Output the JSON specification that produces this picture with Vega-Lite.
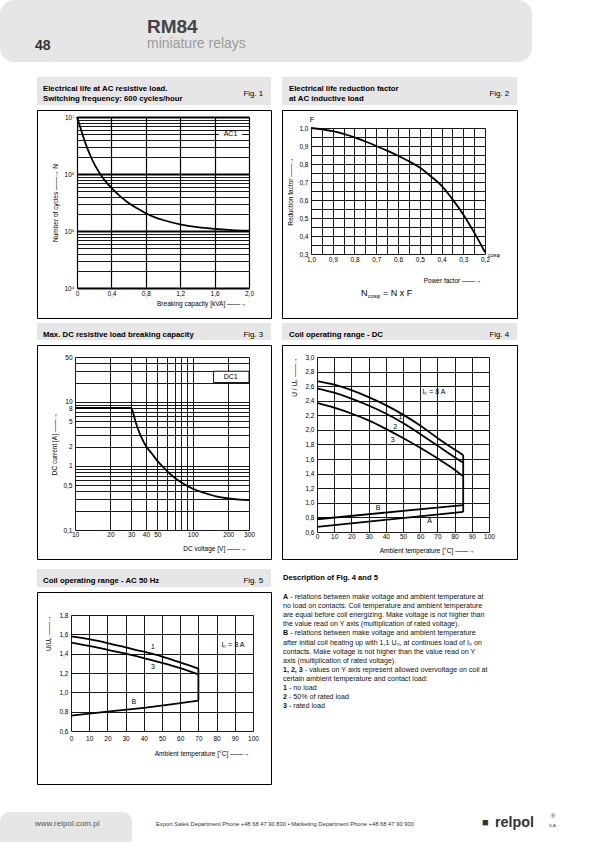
{
"$schema": "https://vega.github.io/schema/vega-lite/v6.json",
"padding": 0,
"background": "white",
"spacing": 15,
"config": {
  "view": {"stroke": null},
  "font": "Liberation Sans",
  "axis": {"grid": true, "gridColor": "#000", "gridOpacity": 1, "gridWidth": 0.9, "domain": false, "ticks": false, "tickSize": 0, "tickCount": 100, "labelFont": "Liberation Sans", "labelFontSize": 6.5, "labelColor": "#000", "labelPadding": 3, "labelFlush": false, "labelOverlap": false, "labelBound": false, "titleFont": "Liberation Sans", "titleFontSize": 6.5, "titleFontWeight": "normal", "titleColor": "#000", "titlePadding": 5},
  "text": {"font": "Liberation Sans", "color": "#000"}
},
"datasets": {
  "fig1": [
    {"kva": 0, "n": 10000000}, {"kva": 0.03, "n": 7200000}, {"kva": 0.06, "n": 5200000}, {"kva": 0.1, "n": 3400000},
    {"kva": 0.15, "n": 2200000}, {"kva": 0.2, "n": 1500000}, {"kva": 0.27, "n": 1000000}, {"kva": 0.33, "n": 750000},
    {"kva": 0.4, "n": 570000}, {"kva": 0.5, "n": 410000}, {"kva": 0.6, "n": 310000}, {"kva": 0.7, "n": 250000},
    {"kva": 0.8, "n": 205000}, {"kva": 0.9, "n": 175000}, {"kva": 1.0, "n": 156000}, {"kva": 1.2, "n": 131000},
    {"kva": 1.4, "n": 117000}, {"kva": 1.6, "n": 109000}, {"kva": 1.8, "n": 104000}, {"kva": 2.0, "n": 101000}
  ],
  "fig2": [
    {"pf": 1.0, "f": 1.0}, {"pf": 0.95, "f": 0.993}, {"pf": 0.9, "f": 0.982}, {"pf": 0.85, "f": 0.967},
    {"pf": 0.8, "f": 0.948}, {"pf": 0.75, "f": 0.925}, {"pf": 0.7, "f": 0.9}, {"pf": 0.65, "f": 0.874},
    {"pf": 0.6, "f": 0.846}, {"pf": 0.55, "f": 0.815}, {"pf": 0.5, "f": 0.78}, {"pf": 0.45, "f": 0.732},
    {"pf": 0.4, "f": 0.68}, {"pf": 0.35, "f": 0.605}, {"pf": 0.3, "f": 0.52}, {"pf": 0.25, "f": 0.42},
    {"pf": 0.2, "f": 0.31}
  ],
  "fig3": [
    {"v": 10, "i": 8}, {"v": 30, "i": 8}, {"v": 31, "i": 7}, {"v": 32, "i": 5.6}, {"v": 33, "i": 4.6},
    {"v": 34, "i": 3.9}, {"v": 36, "i": 3.0}, {"v": 40, "i": 2.05}, {"v": 45, "i": 1.55}, {"v": 50, "i": 1.2},
    {"v": 57, "i": 0.93}, {"v": 64, "i": 0.75}, {"v": 72, "i": 0.63}, {"v": 80, "i": 0.55}, {"v": 100, "i": 0.44},
    {"v": 125, "i": 0.38}, {"v": 157, "i": 0.335}, {"v": 200, "i": 0.31}, {"v": 250, "i": 0.298}, {"v": 300, "i": 0.293}
  ],
  "fig4": [
    {"s": "1", "t": 0, "u": 2.67}, {"s": "1", "t": 10, "u": 2.62}, {"s": "1", "t": 20, "u": 2.545}, {"s": "1", "t": 30, "u": 2.45},
    {"s": "1", "t": 40, "u": 2.34}, {"s": "1", "t": 50, "u": 2.21}, {"s": "1", "t": 60, "u": 2.06}, {"s": "1", "t": 70, "u": 1.89},
    {"s": "1", "t": 80, "u": 1.73}, {"s": "1", "t": 85, "u": 1.655},
    {"s": "2", "t": 0, "u": 2.57}, {"s": "2", "t": 10, "u": 2.51}, {"s": "2", "t": 20, "u": 2.43}, {"s": "2", "t": 30, "u": 2.335},
    {"s": "2", "t": 40, "u": 2.225}, {"s": "2", "t": 50, "u": 2.095}, {"s": "2", "t": 60, "u": 1.945}, {"s": "2", "t": 70, "u": 1.785},
    {"s": "2", "t": 80, "u": 1.625}, {"s": "2", "t": 85, "u": 1.55},
    {"s": "3", "t": 0, "u": 2.37}, {"s": "3", "t": 10, "u": 2.305}, {"s": "3", "t": 20, "u": 2.225}, {"s": "3", "t": 30, "u": 2.13},
    {"s": "3", "t": 40, "u": 2.015}, {"s": "3", "t": 50, "u": 1.89}, {"s": "3", "t": 60, "u": 1.755}, {"s": "3", "t": 70, "u": 1.61},
    {"s": "3", "t": 80, "u": 1.455}, {"s": "3", "t": 85, "u": 1.365},
    {"s": "A", "t": 0, "u": 0.67}, {"s": "A", "t": 85, "u": 0.875},
    {"s": "B", "t": 0, "u": 0.775}, {"s": "B", "t": 85, "u": 0.97},
    {"s": "V", "t": 85, "u": 0.875}, {"s": "V", "t": 85, "u": 1.655}
  ],
  "fig4lab": [
    {"t": 48.5, "u": 2.175, "label": "1"}, {"t": 45.5, "u": 2.04, "label": "2"}, {"t": 44, "u": 1.86, "label": "3"},
    {"t": 35.5, "u": 0.935, "label": "B"}, {"t": 65.5, "u": 0.745, "label": "A"}, {"t": 68, "u": 2.52, "label": "Iₙ = 8 A"}
  ],
  "fig5": [
    {"s": "1", "t": 0, "u": 1.58}, {"s": "1", "t": 10, "u": 1.55}, {"s": "1", "t": 20, "u": 1.51}, {"s": "1", "t": 30, "u": 1.465},
    {"s": "1", "t": 40, "u": 1.42}, {"s": "1", "t": 50, "u": 1.37}, {"s": "1", "t": 60, "u": 1.31}, {"s": "1", "t": 70, "u": 1.245},
    {"s": "3", "t": 0, "u": 1.515}, {"s": "3", "t": 10, "u": 1.48}, {"s": "3", "t": 20, "u": 1.44}, {"s": "3", "t": 30, "u": 1.4},
    {"s": "3", "t": 40, "u": 1.355}, {"s": "3", "t": 50, "u": 1.305}, {"s": "3", "t": 60, "u": 1.25}, {"s": "3", "t": 70, "u": 1.185},
    {"s": "B", "t": 0, "u": 0.76}, {"s": "B", "t": 20, "u": 0.8}, {"s": "B", "t": 40, "u": 0.84}, {"s": "B", "t": 55, "u": 0.875},
    {"s": "B", "t": 70, "u": 0.915},
    {"s": "V", "t": 70, "u": 0.915}, {"s": "V", "t": 70, "u": 1.245}
  ],
  "fig5lab": [
    {"t": 45, "u": 1.465, "label": "1"}, {"t": 45, "u": 1.265, "label": "3"}, {"t": 34.5, "u": 0.9, "label": "B"}, {"t": 89, "u": 1.49, "label": "Iₙ = 8 A"}
  ]
},
"vconcat": [
  {
    "width": 532, "height": 62,
    "view": {"fill": "#e6e6e6", "stroke": null, "cornerRadius": 14},
    "data": {"values": [{}]},
    "layer": [
      {"mark": {"type": "text", "text": "48", "fontSize": 14, "fontWeight": "bold", "align": "left", "baseline": "alphabetic", "color": "#333"}, "encoding": {"x": {"value": 35}, "y": {"value": 50}}},
      {"mark": {"type": "text", "text": "RM84", "fontSize": 19, "fontWeight": "bold", "align": "left", "baseline": "alphabetic", "color": "#444"}, "encoding": {"x": {"value": 147}, "y": {"value": 33}}},
      {"mark": {"type": "text", "text": "miniature relays", "fontSize": 14, "align": "left", "baseline": "alphabetic", "color": "#9a9a9a"}, "encoding": {"x": {"value": 147}, "y": {"value": 48}}}
    ]
  },
  {
    "spacing": 27,
    "vconcat": [
      {
        "spacing": 35,
        "hconcat": [
          {"width": 1, "height": 1, "data": {"values": [{}]}, "mark": {"type": "text", "text": " ", "fontSize": 0.5, "baseline": "top"}, "encoding": {"x": {"value": 0}, "y": {"value": 0}}},
          {
            "spacing": 9,
            "vconcat": [
              {
                "spacing": 4,
                "vconcat": [
                  {
                    "spacing": 9,
                    "hconcat": [
                      {
                        "spacing": 4,
                        "vconcat": [
                          {
                            "width": 234, "height": 28,
                            "view": {"fill": "#e6e6e6", "stroke": null},
                            "data": {"values": [{}]},
                            "layer": [
                              {"mark": {"type": "text", "text": "Electrical life at AC resistive load.", "fontSize": 7.8, "fontWeight": "bold", "align": "left"}, "encoding": {"x": {"value": 6}, "y": {"value": 12}}},
                              {"mark": {"type": "text", "text": "Switching frequency: 600 cycles/hour", "fontSize": 7.8, "fontWeight": "bold", "align": "left"}, "encoding": {"x": {"value": 6}, "y": {"value": 22}}},
                              {"mark": {"type": "text", "text": "Fig. 1", "fontSize": 7.8, "align": "right"}, "encoding": {"x": {"value": 226}, "y": {"value": 17}}}
                            ]
                          },
                          {
                            "width": 234, "height": 208,
                            "view": {"stroke": "#000", "strokeWidth": 1},
                            "layer": [
                              {
                                "data": {"name": "fig1"},
                                "mark": {"type": "line", "color": "#000", "strokeWidth": 1.8, "interpolate": "monotone"},
                                "encoding": {
                                  "x": {"field": "kva", "type": "quantitative",
                                    "scale": {"domain": [0, 2], "range": [40, 212], "nice": false, "zero": false},
                                    "axis": {"orient": "top", "offset": -178, "values": [0, 0.4, 0.8, 1.2, 1.6, 2], "tickCount": 100,
                                      "labelExpr": "datum.value==0?'0':replace(format(datum.value,'.1f'),'.',',')",
                                      "labelBaseline": "top", "labelPadding": -2,
                                      "title": "Breaking capacity [kVA]  ——→", "titleAnchor": "end", "titleAlign": "right", "titleX": 209, "titleBaseline": "middle", "titleY": 15, "gridWidth": 1.2}},
                                  "y": {"field": "n", "type": "quantitative",
                                    "scale": {"type": "log", "domain": [10000, 10000000], "range": [178, 7], "nice": false},
                                    "axis": {"values": [10000, 20000, 30000, 40000, 50000, 60000, 70000, 80000, 90000, 100000, 200000, 300000, 400000, 500000, 600000, 700000, 800000, 900000, 1000000, 2000000, 3000000, 4000000, 5000000, 6000000, 7000000, 8000000, 9000000, 10000000],
                                      "tickCount": 100,
                                      "labelExpr": "datum.value==10000?'10⁴':datum.value==100000?'10⁵':datum.value==1000000?'10⁶':datum.value==10000000?'10⁷':''",
                                      "offset": -40, "title": "Number of cycles  ——→  N",
                                      "gridWidth": {"condition": {"test": "datum.value==10000||datum.value==100000||datum.value==1000000||datum.value==10000000", "value": 2}, "value": 0.9}}}
                                }
                              },
                              {
                                "data": {"values": [{}]},
                                "mark": {"type": "rect", "color": "white"},
                                "encoding": {"x": {"datum": 1.65}, "x2": {"datum": 1.92}, "y": {"datum": 4550000}, "y2": {"datum": 5450000}}
                              },
                              {
                                "data": {"values": [{}]},
                                "mark": {"type": "text", "text": "AC1", "fontSize": 7, "baseline": "middle"},
                                "encoding": {"x": {"datum": 1.785}, "y": {"datum": 4950000}}
                              }
                            ]
                          }
                        ]
                      },
                      {
                        "spacing": 4,
                        "vconcat": [
                          {
                            "width": 235, "height": 28,
                            "view": {"fill": "#e6e6e6", "stroke": null},
                            "data": {"values": [{}]},
                            "layer": [
                              {"mark": {"type": "text", "text": "Electrical life reduction factor", "fontSize": 7.8, "fontWeight": "bold", "align": "left"}, "encoding": {"x": {"value": 7}, "y": {"value": 12}}},
                              {"mark": {"type": "text", "text": "at AC inductive load", "fontSize": 7.8, "fontWeight": "bold", "align": "left"}, "encoding": {"x": {"value": 7}, "y": {"value": 22}}},
                              {"mark": {"type": "text", "text": "Fig. 2", "fontSize": 7.8, "align": "right"}, "encoding": {"x": {"value": 227}, "y": {"value": 17}}}
                            ]
                          },
                          {
                            "width": 235, "height": 208,
                            "view": {"stroke": "#000", "strokeWidth": 1},
                            "layer": [
                              {
                                "data": {"name": "fig2"},
                                "mark": {"type": "line", "color": "#000", "strokeWidth": 1.8, "interpolate": "monotone"},
                                "encoding": {
                                  "x": {"field": "pf", "type": "quantitative",
                                    "scale": {"domain": [1, 0.2], "range": [29, 203], "nice": false, "zero": false},
                                    "axis": {"orient": "top", "offset": -144, "values": [0.2, 0.25, 0.3, 0.35, 0.4, 0.45, 0.5, 0.55, 0.6, 0.65, 0.7, 0.75, 0.8, 0.85, 0.9, 0.95, 1],
                                      "tickCount": 100,
                                      "labelExpr": "abs(datum.value*10-round(datum.value*10))<0.01?replace(format(datum.value,'.1f'),'.',','):''",
                                      "labelBaseline": "top", "labelPadding": -2,
                                      "title": "Power factor  ——→", "titleAnchor": "end", "titleAlign": "right", "titleX": 199, "titleBaseline": "middle", "titleY": 26}},
                                  "y": {"field": "f", "type": "quantitative",
                                    "scale": {"domain": [0.3, 1], "range": [144, 18], "nice": false, "zero": false},
                                    "axis": {"values": [0.3, 0.35, 0.4, 0.45, 0.5, 0.55, 0.6, 0.65, 0.7, 0.75, 0.8, 0.85, 0.9, 0.95, 1],
                                      "tickCount": 100,
                                      "labelExpr": "abs(datum.value*10-round(datum.value*10))<0.01?replace(format(datum.value,'.1f'),'.',','):''",
                                      "offset": -29, "title": "Reduction factor  ——→"}}
                                }
                              },
                              {
                                "data": {"values": [{}]},
                                "mark": {"type": "text", "text": "F", "fontSize": 7.5, "dy": -8, "dx": 1},
                                "encoding": {"x": {"datum": 1}, "y": {"datum": 1}}
                              },
                              {
                                "data": {"values": [{}]},
                                "mark": {"type": "text", "text": "cosφ", "fontSize": 5.5, "align": "left", "dx": 3, "dy": 1},
                                "encoding": {"x": {"datum": 0.2}, "y": {"datum": 0.3}}
                              },
                              {
                                "data": {"values": [{}]},
                                "mark": {"type": "text", "text": "N", "fontSize": 9, "align": "left", "baseline": "middle"},
                                "encoding": {"x": {"datum": 0.77}, "y": {"datum": 0.085}}
                              },
                              {
                                "data": {"values": [{}]},
                                "mark": {"type": "text", "text": "cosφ", "fontSize": 5.5, "align": "left", "baseline": "middle", "dx": 7, "dy": 3},
                                "encoding": {"x": {"datum": 0.77}, "y": {"datum": 0.085}}
                              },
                              {
                                "data": {"values": [{}]},
                                "mark": {"type": "text", "text": "= N x F", "fontSize": 9, "align": "left", "baseline": "middle", "dx": 22},
                                "encoding": {"x": {"datum": 0.77}, "y": {"datum": 0.085}}
                              }
                            ]
                          }
                        ]
                      }
                    ]
                  },
                  {
                    "spacing": 9,
                    "hconcat": [
                      {
                        "spacing": 4,
                        "vconcat": [
                          {
                            "width": 234, "height": 17,
                            "view": {"fill": "#e6e6e6", "stroke": null},
                            "data": {"values": [{}]},
                            "layer": [
                              {"mark": {"type": "text", "text": "Max. DC resistive load breaking capacity", "fontSize": 7.8, "fontWeight": "bold", "align": "left"}, "encoding": {"x": {"value": 6}, "y": {"value": 11.5}}},
                              {"mark": {"type": "text", "text": "Fig. 3", "fontSize": 7.8, "align": "right"}, "encoding": {"x": {"value": 226}, "y": {"value": 11.5}}}
                            ]
                          },
                          {
                            "width": 234, "height": 214,
                            "view": {"stroke": "#000", "strokeWidth": 1},
                            "layer": [
                              {
                                "data": {"name": "fig3"},
                                "mark": {"type": "line", "color": "#000", "strokeWidth": 1.8, "interpolate": "monotone"},
                                "encoding": {
                                  "x": {"field": "v", "type": "quantitative",
                                    "scale": {"type": "log", "domain": [10, 300], "range": [38, 212], "nice": false},
                                    "axis": {"orient": "top", "offset": -185, "values": [10, 20, 30, 40, 50, 60, 70, 80, 90, 100, 200, 300],
                                      "tickCount": 100,
                                      "labelExpr": "indexof([10,20,30,40,50,100,200,300], datum.value)>=0?''+datum.value:''",
                                      "labelBaseline": "top", "labelPadding": -1.5,
                                      "title": "DC voltage [V]  ——→", "titleAnchor": "end", "titleAlign": "right", "titleX": 209, "titleBaseline": "middle", "titleY": 18}},
                                  "y": {"field": "i", "type": "quantitative",
                                    "scale": {"type": "log", "domain": [0.1, 50], "range": [185, 12], "nice": false},
                                    "axis": {"values": [0.1, 0.2, 0.3, 0.4, 0.5, 0.6, 0.7, 0.8, 0.9, 1, 2, 3, 4, 5, 6, 7, 8, 9, 10, 20, 30, 40, 50],
                                      "tickCount": 100,
                                      "labelExpr": "datum.value==0.1?'0,1':datum.value==0.5?'0,5':(datum.value==1||datum.value==2||datum.value==5||datum.value==8||datum.value==10||datum.value==50)?''+datum.value:''",
                                      "offset": -38, "title": "DC current [A]  ——→"}}
                                }
                              },
                              {
                                "data": {"values": [{}]},
                                "mark": {"type": "rect", "color": "white", "stroke": "#000", "strokeWidth": 0.9},
                                "encoding": {"x": {"datum": 150}, "x2": {"datum": 300}, "y": {"datum": 20}, "y2": {"datum": 30}}
                              },
                              {
                                "data": {"values": [{}]},
                                "mark": {"type": "text", "text": "DC1", "fontSize": 7, "baseline": "middle"},
                                "encoding": {"x": {"datum": 210}, "y": {"datum": 24.5}}
                              }
                            ]
                          }
                        ]
                      },
                      {
                        "spacing": 4,
                        "vconcat": [
                          {
                            "width": 235, "height": 17,
                            "view": {"fill": "#e6e6e6", "stroke": null},
                            "data": {"values": [{}]},
                            "layer": [
                              {"mark": {"type": "text", "text": "Coil operating range - DC", "fontSize": 7.8, "fontWeight": "bold", "align": "left"}, "encoding": {"x": {"value": 7}, "y": {"value": 11.5}}},
                              {"mark": {"type": "text", "text": "Fig. 4", "fontSize": 7.8, "align": "right"}, "encoding": {"x": {"value": 227}, "y": {"value": 11.5}}}
                            ]
                          },
                          {
                            "width": 235, "height": 214,
                            "view": {"stroke": "#000", "strokeWidth": 1},
                            "encoding": {
                              "x": {"field": "t", "type": "quantitative",
                                "scale": {"domain": [0, 100], "range": [35, 207], "nice": false, "zero": false},
                                "axis": {"orient": "top", "offset": -187, "values": [0, 10, 20, 30, 40, 50, 60, 70, 80, 90, 100], "tickCount": 100,
                                  "labelBaseline": "top", "labelPadding": -1.5,
                                  "title": "Ambient temperature [°C]  ——→", "titleAnchor": "end", "titleAlign": "right", "titleX": 192, "titleBaseline": "middle", "titleY": 18}},
                              "y": {"field": "u", "type": "quantitative",
                                "scale": {"domain": [0.6, 3], "range": [187, 12], "nice": false, "zero": false},
                                "axis": {"values": [0.6, 0.8, 1, 1.2, 1.4, 1.6, 1.8, 2, 2.2, 2.4, 2.6, 2.8, 3], "tickCount": 100,
                                  "labelExpr": "replace(format(datum.value,'.1f'),'.',',')",
                                  "offset": -35, "title": "U / Uₙ  ——→", "titleAnchor": "end", "titlePadding": 7}}
                            },
                            "layer": [
                              {
                                "data": {"name": "fig4"},
                                "transform": [{"filter": "datum.s=='1'||datum.s=='2'||datum.s=='3'"}],
                                "mark": {"type": "line", "color": "#000", "strokeWidth": 1.8, "interpolate": "monotone"},
                                "encoding": {"detail": {"field": "s"}}
                              },
                              {
                                "data": {"name": "fig4"},
                                "transform": [{"filter": "datum.s=='A'||datum.s=='B'||datum.s=='V'"}],
                                "mark": {"type": "line", "color": "#000", "strokeWidth": 1.8},
                                "encoding": {"detail": {"field": "s"}}
                              },
                              {
                                "data": {"name": "fig4lab"},
                                "mark": {"type": "text", "fontSize": 7, "baseline": "middle"},
                                "encoding": {"text": {"field": "label"}}
                              }
                            ]
                          }
                        ]
                      }
                    ]
                  }
                ]
              },
              {
                "spacing": 9,
                "hconcat": [
                  {
                    "spacing": 4,
                    "vconcat": [
                      {
                        "width": 234, "height": 18,
                        "view": {"fill": "#e6e6e6", "stroke": null},
                        "data": {"values": [{}]},
                        "layer": [
                          {"mark": {"type": "text", "text": "Coil operating range - AC 50 Hz", "fontSize": 7.8, "fontWeight": "bold", "align": "left"}, "encoding": {"x": {"value": 6}, "y": {"value": 12}}},
                          {"mark": {"type": "text", "text": "Fig. 5", "fontSize": 7.8, "align": "right"}, "encoding": {"x": {"value": 226}, "y": {"value": 12}}}
                        ]
                      },
                      {
                        "width": 234, "height": 192,
                        "view": {"stroke": "#000", "strokeWidth": 1},
                        "encoding": {
                          "x": {"field": "t", "type": "quantitative",
                            "scale": {"domain": [0, 100], "range": [34, 216], "nice": false, "zero": false},
                            "axis": {"orient": "top", "offset": -139, "values": [0, 10, 20, 30, 40, 50, 60, 70, 80, 90, 100], "tickCount": 100,
                              "labelBaseline": "top", "labelPadding": -4,
                              "title": "Ambient temperature  [°C]  ——→", "titleAnchor": "end", "titleAlign": "right", "titleX": 212, "titleBaseline": "middle", "titleY": 22}},
                          "y": {"field": "u", "type": "quantitative",
                            "scale": {"domain": [0.6, 1.8], "range": [139, 23], "nice": false, "zero": false},
                            "axis": {"values": [0.6, 0.8, 1, 1.2, 1.4, 1.6, 1.8], "tickCount": 100,
                              "labelExpr": "replace(format(datum.value,'.1f'),'.',',')",
                              "offset": -34, "title": "U/Uₙ  ——→", "titleAnchor": "end", "titlePadding": 7}}
                        },
                        "layer": [
                          {
                            "data": {"name": "fig5"},
                            "transform": [{"filter": "datum.s=='1'||datum.s=='3'"}],
                            "mark": {"type": "line", "color": "#000", "strokeWidth": 1.8, "interpolate": "monotone"},
                            "encoding": {"detail": {"field": "s"}}
                          },
                          {
                            "data": {"name": "fig5"},
                            "transform": [{"filter": "datum.s=='B'||datum.s=='V'"}],
                            "mark": {"type": "line", "color": "#000", "strokeWidth": 1.8},
                            "encoding": {"detail": {"field": "s"}}
                          },
                          {
                            "data": {"name": "fig5lab"},
                            "mark": {"type": "text", "fontSize": 7, "baseline": "middle"},
                            "encoding": {"text": {"field": "label"}}
                          }
                        ]
                      }
                    ]
                  },
                  {
                    "width": 235, "height": 200,
                    "data": {"values": [{}]},
                    "layer": [
                      {"mark": {"type": "text", "text": "Description of Fig. 4 and 5", "fontSize": 7.6, "fontWeight": "bold", "align": "left"}, "encoding": {"x": {"value": 2}, "y": {"value": 9}}},
                      {"mark": {"type": "text", "text": "A", "fontSize": 7.1, "fontWeight": "bold", "align": "left", "color": "#111"}, "encoding": {"x": {"value": 2}, "y": {"value": 28}}},
                      {"mark": {"type": "text", "text": "- relations between make voltage and ambient temperature at", "fontSize": 7.1, "align": "left", "color": "#111"}, "encoding": {"x": {"value": 9.3}, "y": {"value": 28}}},
                      {"mark": {"type": "text", "text": [
                        "no load on contacts. Coil temperature and ambient temperature",
                        "are equal before coil energizing. Make voltage is not higher than",
                        "the value read on Y axis (multiplication of rated voltage)."
                      ], "fontSize": 7.1, "lineHeight": 9.1, "align": "left", "color": "#111"}, "encoding": {"x": {"value": 2}, "y": {"value": 37.1}}},
                      {"mark": {"type": "text", "text": "B", "fontSize": 7.1, "fontWeight": "bold", "align": "left", "color": "#111"}, "encoding": {"x": {"value": 2}, "y": {"value": 64.4}}},
                      {"mark": {"type": "text", "text": "- relations between make voltage and ambient temperature", "fontSize": 7.1, "align": "left", "color": "#111"}, "encoding": {"x": {"value": 9.3}, "y": {"value": 64.4}}},
                      {"mark": {"type": "text", "text": [
                        "after initial coil heating up with 1,1 Uₙ, at continues load of Iₙ on",
                        "contacts. Make voltage is not higher than the value read on Y",
                        "axis (multiplication of rated voltage)."
                      ], "fontSize": 7.1, "lineHeight": 9.1, "align": "left", "color": "#111"}, "encoding": {"x": {"value": 2}, "y": {"value": 73.5}}},
                      {"mark": {"type": "text", "text": "1, 2, 3", "fontSize": 7.1, "fontWeight": "bold", "align": "left", "color": "#111"}, "encoding": {"x": {"value": 2}, "y": {"value": 100.8}}},
                      {"mark": {"type": "text", "text": "- values on Y axis represent allowed overvoltage on coil at", "fontSize": 7.1, "align": "left", "color": "#111"}, "encoding": {"x": {"value": 23.8}, "y": {"value": 100.8}}},
                      {"mark": {"type": "text", "text": "certain ambient temperature and contact load:", "fontSize": 7.1, "align": "left", "color": "#111"}, "encoding": {"x": {"value": 2}, "y": {"value": 109.9}}},
                      {"mark": {"type": "text", "text": ["1", "2", "3"], "fontSize": 7.1, "lineHeight": 9.1, "fontWeight": "bold", "align": "left", "color": "#111"}, "encoding": {"x": {"value": 2}, "y": {"value": 119}}},
                      {"mark": {"type": "text", "text": ["- no load", "- 50% of rated load", "- rated load"], "fontSize": 7.1, "lineHeight": 9.1, "align": "left", "color": "#111"}, "encoding": {"x": {"value": 8}, "y": {"value": 119}}}
                    ]
                  }
                ]
              }
            ]
          }
        ]
      },
      {
        "spacing": 0,
        "hconcat": [
          {
            "width": 132, "height": 36,
            "view": {"fill": "#e6e6e6", "stroke": null, "cornerRadius": 10},
            "data": {"values": [{}]},
            "mark": {"type": "text", "text": "www.relpol.com.pl", "fontSize": 8, "color": "#555", "align": "left", "baseline": "middle"},
            "encoding": {"x": {"value": 35}, "y": {"value": 12}}
          },
          {
            "width": 463, "height": 36,
            "data": {"values": [{}]},
            "layer": [
              {"mark": {"type": "text", "text": "Export Sales Department Phone +48 68 47 90 830 • Marketing Department Phone +48 68 47 90 900", "fontSize": 5.8, "color": "#333", "align": "left", "baseline": "middle"}, "encoding": {"x": {"value": 24}, "y": {"value": 12}}},
              {"mark": {"type": "text", "text": "■", "fontSize": 11, "color": "#333", "align": "left", "baseline": "middle"}, "encoding": {"x": {"value": 350}, "y": {"value": 11}}},
              {"mark": {"type": "text", "text": "relpol", "fontSize": 14.3, "fontWeight": "bold", "color": "#333", "align": "left", "baseline": "middle"}, "encoding": {"x": {"value": 363}, "y": {"value": 11}}},
              {"mark": {"type": "text", "text": "®", "fontSize": 6, "color": "#333", "align": "left", "baseline": "middle"}, "encoding": {"x": {"value": 419}, "y": {"value": 4}}},
              {"mark": {"type": "text", "text": "S.A.", "fontSize": 4.2, "color": "#333", "align": "left", "baseline": "middle"}, "encoding": {"x": {"value": 417}, "y": {"value": 14}}}
            ]
          }
        ]
      }
    ]
  }
]
}
